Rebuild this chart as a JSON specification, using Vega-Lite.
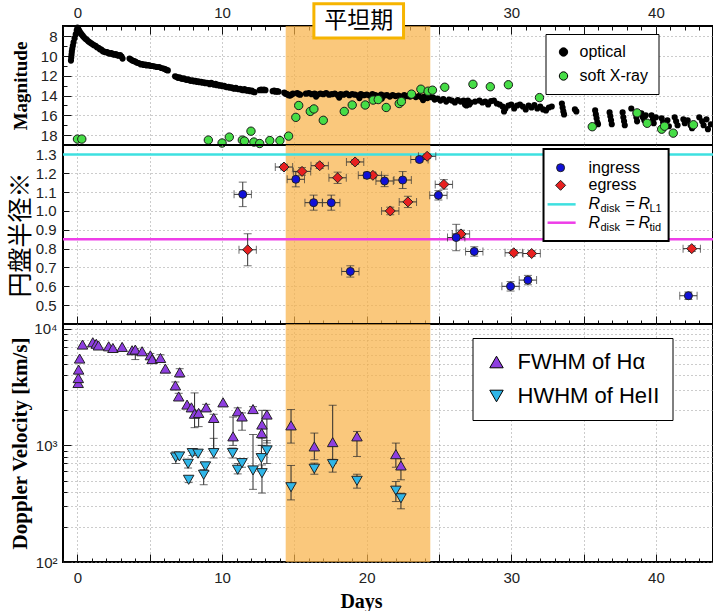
{
  "$schema": "https://vega.github.io/schema/vega-lite/v6.json",
  "background": "white",
  "padding": {"left": 7, "top": 0, "right": 0, "bottom": 0},
  "spacing": 0,
  "bounds": "flush",
  "resolve": {"scale": {"color": "independent", "shape": "independent", "stroke": "independent"}, "legend": {"color": "independent", "shape": "independent"}},
  "config": {
    "view": {"stroke": "black", "strokeWidth": 2},
    "axis": {"domain": false, "labelFont": "Liberation Sans", "labelFontSize": 15, "labelColor": "#222", "tickColor": "#111", "tickWidth": 1, "gridColor": "#999", "gridDash": [1, 3], "gridWidth": 1, "labelOverlap": false, "labelFlush": false, "titleColor": "black"},
    "legend": {"orient": "none", "strokeColor": "black", "fillColor": "white", "labelFont": "Liberation Sans", "labelColor": "black", "symbolStrokeColor": "black", "symbolStrokeWidth": 1}
  },
  "datasets": {
    "phase": [{"label": "平坦期", "start": 14.4, "end": 24.4}],
    "limits": [{"name": "R_L1", "r": 1.3}, {"name": "R_tid", "r": 0.85}],
    "optical": [
      {"day": -0.45, "mag": 10.45}, {"day": -0.43, "mag": 10.15}, {"day": -0.41, "mag": 9.85}, {"day": -0.39, "mag": 9.55}, {"day": -0.36, "mag": 9.25}, {"day": -0.32, "mag": 8.95}, {"day": -0.27, "mag": 8.6}, {"day": -0.2, "mag": 8.2}, {"day": -0.12, "mag": 7.8}, {"day": -0.05, "mag": 7.4},
      {"day": 0.0, "mag": 7.1}, {"day": 0.06, "mag": 7.25}, {"day": 0.13, "mag": 7.45}, {"day": 0.21, "mag": 7.65}, {"day": 0.29, "mag": 7.8}, {"day": 0.37, "mag": 7.95}, {"day": 0.45, "mag": 8.1}, {"day": 0.55, "mag": 8.25}, {"day": 0.65, "mag": 8.35}, {"day": 0.75, "mag": 8.5},
      {"day": 0.85, "mag": 8.6}, {"day": 0.95, "mag": 8.7}, {"day": 1.05, "mag": 8.8}, {"day": 1.15, "mag": 8.9}, {"day": 1.25, "mag": 8.95}, {"day": 1.35, "mag": 9.1}, {"day": 1.45, "mag": 9.15}, {"day": 1.55, "mag": 9.3}, {"day": 1.65, "mag": 9.35}, {"day": 1.75, "mag": 9.5},
      {"day": 1.85, "mag": 9.55}, {"day": 1.95, "mag": 9.6}, {"day": 2.05, "mag": 9.6}, {"day": 2.15, "mag": 9.7}, {"day": 2.25, "mag": 9.75}, {"day": 2.35, "mag": 9.7}, {"day": 2.45, "mag": 9.8}, {"day": 2.55, "mag": 9.85}, {"day": 2.65, "mag": 9.8}, {"day": 2.75, "mag": 9.9},
      {"day": 2.85, "mag": 9.95}, {"day": 2.95, "mag": 9.9}, {"day": 3.05, "mag": 10.05}, {"day": 3.12, "mag": 10.25}, {"day": 3.6, "mag": 10.25}, {"day": 3.7, "mag": 10.35}, {"day": 3.8, "mag": 10.45}, {"day": 3.9, "mag": 10.5}, {"day": 4.0, "mag": 10.55}, {"day": 4.1, "mag": 10.65},
      {"day": 4.2, "mag": 10.7}, {"day": 4.3, "mag": 10.75}, {"day": 4.4, "mag": 10.85}, {"day": 4.5, "mag": 10.8}, {"day": 4.6, "mag": 10.9}, {"day": 4.7, "mag": 10.85}, {"day": 4.8, "mag": 10.95}, {"day": 4.9, "mag": 10.9}, {"day": 5.0, "mag": 10.95}, {"day": 5.1, "mag": 11.0},
      {"day": 5.2, "mag": 11.0}, {"day": 5.35, "mag": 11.05}, {"day": 5.5, "mag": 11.1}, {"day": 5.65, "mag": 11.1}, {"day": 5.8, "mag": 11.2}, {"day": 5.95, "mag": 11.25}, {"day": 6.05, "mag": 11.3}, {"day": 6.15, "mag": 11.4}, {"day": 6.25, "mag": 11.45},
      {"day": 6.75, "mag": 12.05}, {"day": 6.85, "mag": 12.1}, {"day": 6.95, "mag": 12.2}, {"day": 7.05, "mag": 12.15}, {"day": 7.15, "mag": 12.25}, {"day": 7.25, "mag": 12.3}, {"day": 7.35, "mag": 12.25}, {"day": 7.45, "mag": 12.35}, {"day": 7.55, "mag": 12.4}, {"day": 7.65, "mag": 12.35},
      {"day": 7.75, "mag": 12.45}, {"day": 7.85, "mag": 12.5}, {"day": 7.95, "mag": 12.45}, {"day": 8.05, "mag": 12.55}, {"day": 8.15, "mag": 12.5}, {"day": 8.25, "mag": 12.6}, {"day": 8.35, "mag": 12.55}, {"day": 8.45, "mag": 12.65}, {"day": 8.55, "mag": 12.6}, {"day": 8.65, "mag": 12.7},
      {"day": 8.75, "mag": 12.65}, {"day": 8.85, "mag": 12.75}, {"day": 8.95, "mag": 12.7}, {"day": 9.05, "mag": 12.75}, {"day": 9.15, "mag": 12.85}, {"day": 9.25, "mag": 12.7}, {"day": 9.35, "mag": 12.8}, {"day": 9.45, "mag": 12.9}, {"day": 9.55, "mag": 12.8}, {"day": 9.65, "mag": 12.95},
      {"day": 9.75, "mag": 12.9}, {"day": 9.85, "mag": 13.0}, {"day": 9.95, "mag": 12.95}, {"day": 10.05, "mag": 13.05}, {"day": 10.15, "mag": 13.0}, {"day": 10.25, "mag": 13.1}, {"day": 10.35, "mag": 13.15}, {"day": 10.45, "mag": 13.1}, {"day": 10.55, "mag": 13.2}, {"day": 10.65, "mag": 13.15},
      {"day": 10.75, "mag": 13.25}, {"day": 10.85, "mag": 13.3}, {"day": 10.95, "mag": 13.2}, {"day": 11.05, "mag": 13.3}, {"day": 11.15, "mag": 13.35}, {"day": 11.25, "mag": 13.3}, {"day": 11.35, "mag": 13.4}, {"day": 11.45, "mag": 13.45}, {"day": 11.55, "mag": 13.35}, {"day": 11.65, "mag": 13.45},
      {"day": 11.75, "mag": 13.5}, {"day": 11.85, "mag": 13.45}, {"day": 11.95, "mag": 13.55}, {"day": 12.05, "mag": 13.5}, {"day": 12.15, "mag": 13.6}, {"day": 12.25, "mag": 13.65},
      {"day": 12.6, "mag": 13.45}, {"day": 12.7, "mag": 13.4}, {"day": 12.8, "mag": 13.45}, {"day": 12.9, "mag": 13.4}, {"day": 13.0, "mag": 13.45},
      {"day": 13.5, "mag": 13.55}, {"day": 13.6, "mag": 13.5}, {"day": 13.7, "mag": 13.6}, {"day": 13.8, "mag": 13.55}, {"day": 13.9, "mag": 13.6},
      {"day": 14.3, "mag": 13.7}, {"day": 14.4, "mag": 13.8}, {"day": 14.5, "mag": 13.85}, {"day": 14.6, "mag": 13.95}, {"day": 14.7, "mag": 14.0}, {"day": 14.8, "mag": 13.9}, {"day": 14.9, "mag": 13.8},
      {"day": 15.2, "mag": 13.75}, {"day": 15.3, "mag": 13.85}, {"day": 15.4, "mag": 13.9},
      {"day": 15.8, "mag": 13.8}, {"day": 16.0, "mag": 13.75}, {"day": 16.2, "mag": 13.85}, {"day": 16.4, "mag": 13.8}, {"day": 16.5, "mag": 14.1}, {"day": 16.6, "mag": 13.9}, {"day": 16.8, "mag": 13.8}, {"day": 17.0, "mag": 13.85}, {"day": 17.2, "mag": 13.75}, {"day": 17.4, "mag": 13.9},
      {"day": 17.6, "mag": 13.85}, {"day": 17.8, "mag": 13.8}, {"day": 18.0, "mag": 13.95}, {"day": 18.1, "mag": 14.2}, {"day": 18.2, "mag": 13.85}, {"day": 18.4, "mag": 13.9}, {"day": 18.6, "mag": 13.8}, {"day": 18.8, "mag": 13.95}, {"day": 19.0, "mag": 13.85}, {"day": 19.2, "mag": 13.9},
      {"day": 19.4, "mag": 14.0}, {"day": 19.5, "mag": 14.25}, {"day": 19.6, "mag": 13.85}, {"day": 19.8, "mag": 13.95}, {"day": 20.0, "mag": 13.9}, {"day": 20.2, "mag": 14.0}, {"day": 20.4, "mag": 13.85}, {"day": 20.6, "mag": 13.95}, {"day": 20.8, "mag": 14.05}, {"day": 21.0, "mag": 13.9},
      {"day": 21.05, "mag": 14.3}, {"day": 21.2, "mag": 14.0}, {"day": 21.4, "mag": 13.95}, {"day": 21.6, "mag": 14.1}, {"day": 21.8, "mag": 13.95}, {"day": 22.0, "mag": 14.05}, {"day": 22.2, "mag": 14.0}, {"day": 22.4, "mag": 14.1}, {"day": 22.5, "mag": 14.35}, {"day": 22.6, "mag": 13.95},
      {"day": 22.8, "mag": 14.05}, {"day": 23.0, "mag": 14.1}, {"day": 23.2, "mag": 14.0}, {"day": 23.4, "mag": 14.15}, {"day": 23.6, "mag": 14.05}, {"day": 23.8, "mag": 14.2}, {"day": 23.9, "mag": 14.45}, {"day": 24.0, "mag": 14.1}, {"day": 24.2, "mag": 14.25}, {"day": 24.4, "mag": 14.15},
      {"day": 24.6, "mag": 14.2}, {"day": 24.7, "mag": 14.4}, {"day": 24.9, "mag": 14.3}, {"day": 25.1, "mag": 14.5}, {"day": 25.3, "mag": 14.35}, {"day": 25.5, "mag": 14.6}, {"day": 25.7, "mag": 14.4}, {"day": 25.9, "mag": 14.5}, {"day": 26.1, "mag": 14.7}, {"day": 26.3, "mag": 14.45},
      {"day": 26.5, "mag": 14.6}, {"day": 26.7, "mag": 14.5}, {"day": 26.8, "mag": 14.9}, {"day": 26.9, "mag": 15.0}, {"day": 27.0, "mag": 14.5}, {"day": 27.1, "mag": 14.9}, {"day": 27.2, "mag": 14.7}, {"day": 27.5, "mag": 14.6}, {"day": 27.8, "mag": 14.5}, {"day": 28.0, "mag": 14.7},
      {"day": 28.2, "mag": 14.6}, {"day": 28.4, "mag": 14.9}, {"day": 28.6, "mag": 14.55}, {"day": 28.8, "mag": 14.5}, {"day": 29.0, "mag": 14.8}, {"day": 29.2, "mag": 14.9}, {"day": 29.4, "mag": 15.1}, {"day": 29.5, "mag": 15.6}, {"day": 29.6, "mag": 15.3}, {"day": 29.8, "mag": 15.0},
      {"day": 30.0, "mag": 14.9}, {"day": 30.2, "mag": 15.3}, {"day": 30.4, "mag": 15.0}, {"day": 30.6, "mag": 14.9}, {"day": 30.8, "mag": 15.1}, {"day": 31.0, "mag": 15.4}, {"day": 31.2, "mag": 15.0}, {"day": 31.4, "mag": 15.2}, {"day": 31.6, "mag": 14.95}, {"day": 31.8, "mag": 15.3},
      {"day": 32.0, "mag": 15.1}, {"day": 32.2, "mag": 15.4}, {"day": 32.4, "mag": 15.5}, {"day": 32.6, "mag": 15.2}, {"day": 32.8, "mag": 15.1}, {"day": 33.5, "mag": 14.8}, {"day": 33.55, "mag": 15.2}, {"day": 33.6, "mag": 15.6}, {"day": 33.65, "mag": 15.9}, {"day": 34.4, "mag": 15.4},
      {"day": 34.5, "mag": 15.6}, {"day": 35.8, "mag": 15.5}, {"day": 35.85, "mag": 15.9}, {"day": 35.9, "mag": 16.3}, {"day": 35.95, "mag": 16.7}, {"day": 36.0, "mag": 16.9}, {"day": 36.8, "mag": 15.7}, {"day": 36.85, "mag": 16.1}, {"day": 36.9, "mag": 16.5}, {"day": 36.95, "mag": 16.9},
      {"day": 37.7, "mag": 15.7}, {"day": 37.75, "mag": 16.2}, {"day": 37.8, "mag": 16.6}, {"day": 37.85, "mag": 17.0}, {"day": 38.3, "mag": 15.3}, {"day": 38.6, "mag": 15.8}, {"day": 38.65, "mag": 16.2}, {"day": 38.7, "mag": 16.6}, {"day": 39.0, "mag": 15.8}, {"day": 39.1, "mag": 16.2},
      {"day": 39.2, "mag": 16.5}, {"day": 39.3, "mag": 16.0}, {"day": 39.7, "mag": 16.0}, {"day": 39.8, "mag": 16.4}, {"day": 39.85, "mag": 16.8}, {"day": 40.0, "mag": 16.2}, {"day": 40.4, "mag": 16.3}, {"day": 40.5, "mag": 16.7}, {"day": 40.6, "mag": 17.0}, {"day": 40.8, "mag": 16.5},
      {"day": 40.9, "mag": 17.1}, {"day": 41.3, "mag": 16.2}, {"day": 41.4, "mag": 16.6}, {"day": 41.5, "mag": 17.0}, {"day": 41.9, "mag": 16.4}, {"day": 42.0, "mag": 16.8}, {"day": 42.2, "mag": 16.5}, {"day": 42.4, "mag": 17.0}, {"day": 42.5, "mag": 17.3}, {"day": 43.0, "mag": 16.2},
      {"day": 43.2, "mag": 16.6}, {"day": 43.3, "mag": 17.0}, {"day": 43.5, "mag": 16.4}, {"day": 43.6, "mag": 17.4}, {"day": 43.8, "mag": 16.9}
    ],
    "xray": [
      {"day": 0.0, "mag": 18.4}, {"day": 0.3, "mag": 18.4}, {"day": 9.05, "mag": 18.5}, {"day": 10.0, "mag": 18.8}, {"day": 10.5, "mag": 18.2}, {"day": 11.4, "mag": 18.5}, {"day": 11.55, "mag": 18.6}, {"day": 12.0, "mag": 17.6}, {"day": 12.2, "mag": 18.7}, {"day": 12.6, "mag": 18.85},
      {"day": 13.3, "mag": 18.55}, {"day": 14.0, "mag": 18.55}, {"day": 14.6, "mag": 18.1}, {"day": 15.1, "mag": 16.2}, {"day": 15.3, "mag": 15.0}, {"day": 16.1, "mag": 15.6}, {"day": 16.35, "mag": 15.35}, {"day": 17.0, "mag": 16.5}, {"day": 18.45, "mag": 15.6}, {"day": 19.0, "mag": 14.95},
      {"day": 19.9, "mag": 14.95}, {"day": 20.45, "mag": 14.45}, {"day": 20.8, "mag": 14.4}, {"day": 21.35, "mag": 15.2}, {"day": 22.25, "mag": 14.8}, {"day": 22.4, "mag": 14.6}, {"day": 23.1, "mag": 13.85}, {"day": 23.75, "mag": 13.35}, {"day": 24.25, "mag": 13.55}, {"day": 24.55, "mag": 13.45},
      {"day": 25.4, "mag": 13.15}, {"day": 27.35, "mag": 12.85}, {"day": 28.55, "mag": 13.1}, {"day": 29.8, "mag": 12.9}, {"day": 31.95, "mag": 14.2}, {"day": 35.6, "mag": 17.15}, {"day": 38.7, "mag": 15.75}, {"day": 39.4, "mag": 16.8}, {"day": 40.4, "mag": 17.4}, {"day": 40.6, "mag": 17.1},
      {"day": 41.2, "mag": 17.8}, {"day": 42.6, "mag": 16.95}
    ],
    "disk": [
      {"type": "ingress", "day": 11.43, "r": 1.088, "err": 0.065, "derr": 0.6}, {"type": "ingress", "day": 15.1, "r": 1.168, "err": 0.04, "derr": 0.6}, {"type": "ingress", "day": 16.33, "r": 1.044, "err": 0.04, "derr": 0.6}, {"type": "ingress", "day": 17.55, "r": 1.044, "err": 0.04, "derr": 0.6}, {"type": "ingress", "day": 18.87, "r": 0.679, "err": 0.03, "derr": 0.6},
      {"type": "ingress", "day": 20.02, "r": 1.189, "err": 0.015, "derr": 0.6}, {"type": "ingress", "day": 21.24, "r": 1.159, "err": 0.03, "derr": 0.6}, {"type": "ingress", "day": 22.49, "r": 1.164, "err": 0.045, "derr": 0.6}, {"type": "ingress", "day": 23.65, "r": 1.273, "err": 0.012, "derr": 0.6}, {"type": "ingress", "day": 24.96, "r": 1.083, "err": 0.025, "derr": 0.6},
      {"type": "ingress", "day": 26.19, "r": 0.859, "err": 0.07, "derr": 0.6}, {"type": "ingress", "day": 27.44, "r": 0.785, "err": 0.025, "derr": 0.6}, {"type": "ingress", "day": 29.95, "r": 0.6, "err": 0.025, "derr": 0.6}, {"type": "ingress", "day": 31.15, "r": 0.633, "err": 0.025, "derr": 0.6}, {"type": "ingress", "day": 42.25, "r": 0.55, "err": 0.02, "derr": 0.6},
      {"type": "egress", "day": 11.77, "r": 0.794, "err": 0.085, "derr": 0.6}, {"type": "egress", "day": 14.28, "r": 1.233, "err": 0.015, "derr": 0.6}, {"type": "egress", "day": 15.53, "r": 1.21, "err": 0.02, "derr": 0.6}, {"type": "egress", "day": 16.75, "r": 1.24, "err": 0.015, "derr": 0.6}, {"type": "egress", "day": 17.99, "r": 1.176, "err": 0.03, "derr": 0.6},
      {"type": "egress", "day": 19.2, "r": 1.26, "err": 0.012, "derr": 0.6}, {"type": "egress", "day": 20.43, "r": 1.189, "err": 0.012, "derr": 0.6}, {"type": "egress", "day": 21.63, "r": 1.0, "err": 0.02, "derr": 0.6}, {"type": "egress", "day": 22.85, "r": 1.048, "err": 0.03, "derr": 0.6}, {"type": "egress", "day": 24.18, "r": 1.29, "err": 0.012, "derr": 0.6},
      {"type": "egress", "day": 25.34, "r": 1.141, "err": 0.025, "derr": 0.6}, {"type": "egress", "day": 26.52, "r": 0.878, "err": 0.02, "derr": 0.6}, {"type": "egress", "day": 30.17, "r": 0.778, "err": 0.015, "derr": 0.6}, {"type": "egress", "day": 31.41, "r": 0.774, "err": 0.015, "derr": 0.6}, {"type": "egress", "day": 42.48, "r": 0.8, "err": 0.015, "derr": 0.6}
    ],
    "halpha": [
      {"day": 0.05, "v": 3430}, {"day": 0.06, "v": 3780}, {"day": 0.08, "v": 4470}, {"day": 0.15, "v": 5560}, {"day": 0.35, "v": 7330}, {"day": 1.06, "v": 7670}, {"day": 1.3, "v": 7450}, {"day": 1.45, "v": 7200}, {"day": 2.16, "v": 7080}, {"day": 2.45, "v": 6850},
      {"day": 3.09, "v": 7000}, {"day": 3.78, "v": 6550}, {"day": 4.0, "v": 6640, "lo": 5450, "hi": 6750}, {"day": 4.47, "v": 6420}, {"day": 5.04, "v": 5930, "lo": 5700, "hi": 6150}, {"day": 5.16, "v": 5500}, {"day": 5.74, "v": 5620, "lo": 5150, "hi": 6000}, {"day": 6.08, "v": 4560},
      {"day": 6.77, "v": 3270, "lo": 3000, "hi": 3500}, {"day": 7.07, "v": 4240, "lo": 3850, "hi": 4550}, {"day": 7.0, "v": 2630, "lo": 2450, "hi": 2800}, {"day": 7.58, "v": 2240}, {"day": 7.88, "v": 2120}, {"day": 8.1, "v": 1870, "lo": 1420, "hi": 2820}, {"day": 8.38, "v": 1900, "lo": 1450, "hi": 2000},
      {"day": 8.9, "v": 2120, "lo": 2000, "hi": 2250}, {"day": 9.42, "v": 1720, "lo": 900, "hi": 1850}, {"day": 10.07, "v": 2340}, {"day": 10.76, "v": 1195, "lo": 1000, "hi": 1750}, {"day": 11.08, "v": 1960, "lo": 1800, "hi": 2100}, {"day": 11.38, "v": 1770, "lo": 1350, "hi": 1900},
      {"day": 12.14, "v": 2050, "lo": 1950, "hi": 2150}, {"day": 12.76, "v": 1510, "lo": 1000, "hi": 2000}, {"day": 12.74, "v": 1275, "lo": 1150, "hi": 1400}, {"day": 13.1, "v": 1840, "lo": 1050, "hi": 2000}, {"day": 14.77, "v": 1485, "lo": 1047, "hi": 2030},
      {"day": 16.38, "v": 980, "lo": 754, "hi": 1276}, {"day": 17.65, "v": 1067, "lo": 700, "hi": 2210}, {"day": 19.33, "v": 1195, "lo": 804, "hi": 1318}, {"day": 22.02, "v": 841, "lo": 650, "hi": 1047}, {"day": 22.37, "v": 673, "lo": 507, "hi": 770}
    ],
    "heii": [
      {"day": 6.8, "v": 789, "lo": 700, "hi": 880}, {"day": 7.05, "v": 804}, {"day": 7.65, "v": 696, "lo": 640, "hi": 740}, {"day": 7.69, "v": 507, "lo": 480, "hi": 540}, {"day": 7.95, "v": 859, "lo": 820, "hi": 900}, {"day": 8.34, "v": 849},
      {"day": 8.85, "v": 661, "lo": 600, "hi": 700}, {"day": 8.73, "v": 560, "lo": 460, "hi": 620}, {"day": 9.42, "v": 859, "lo": 780, "hi": 1150}, {"day": 10.73, "v": 859, "lo": 780, "hi": 950}, {"day": 11.08, "v": 618, "lo": 570, "hi": 700},
      {"day": 11.38, "v": 705, "lo": 650, "hi": 760}, {"day": 12.14, "v": 610, "lo": 420, "hi": 1240}, {"day": 12.72, "v": 778, "lo": 600, "hi": 1000}, {"day": 12.76, "v": 578, "lo": 390, "hi": 680}, {"day": 13.1, "v": 906, "lo": 700, "hi": 1100},
      {"day": 14.77, "v": 438, "lo": 341, "hi": 673}, {"day": 16.38, "v": 631, "lo": 566, "hi": 705}, {"day": 17.65, "v": 691, "lo": 590, "hi": 760}, {"day": 19.33, "v": 497, "lo": 430, "hi": 566}, {"day": 22.02, "v": 409, "lo": 330, "hi": 490}, {"day": 22.37, "v": 352, "lo": 286, "hi": 389}
    ]
  },
  "vconcat": [
    {
      "width": 650,
      "height": 119,
      "layer": [
        {
          "data": {"name": "phase"},
          "mark": {"type": "rect", "color": "#f8b045", "opacity": 0.7},
          "encoding": {
            "x": {"field": "start", "type": "quantitative", "title": null, "scale": {"domain": [-1, 43.95], "nice": false, "zero": false},
              "axis": {"orient": "top", "title": null, "tickCount": 100, "labelOverlap": false, "values": [-1,0,1,2,3,4,5,6,7,8,9,10,11,12,13,14,15,16,17,18,19,20,21,22,23,24,25,26,27,28,29,30,31,32,33,34,35,36,37,38,39,40,41,42,43],
                "labelExpr": "datum.value % 10 === 0 && datum.value !== 20 ? '' + datum.value : ''", "labelPadding": 14,
                "tickSize": {"condition": {"test": "datum.value % 5 === 0", "value": -8}, "value": -4},
                "grid": true, "gridOpacity": {"condition": {"test": "datum.value % 5 === 0", "value": 1}, "value": 0}}},
            "x2": {"field": "end"}
          }
        },
        {
          "data": {"name": "optical"},
          "mark": {"type": "point", "filled": true, "size": 38, "opacity": 1, "strokeWidth": 0},
          "encoding": {
            "x": {"field": "day", "type": "quantitative", "title": null},
            "y": {"field": "mag", "type": "quantitative", "title": "Magnitude", "scale": {"domain": [6.95, 19], "reverse": true, "nice": false, "zero": false},
              "axis": {"title": "Magnitude", "titleFont": "Liberation Serif", "titleFontSize": 19, "titleFontWeight": "bold", "titlePadding": 10, "tickCount": 100, "labelOverlap": false,
                "values": [7,8,9,10,11,12,13,14,15,16,17,18,19],
                "labelExpr": "datum.value % 2 === 0 && datum.value >= 8 && datum.value <= 18 ? '' + datum.value : ''",
                "tickSize": {"condition": {"test": "datum.value % 2 === 0", "value": -8}, "value": -4}, "labelPadding": 14,
                "grid": true, "gridOpacity": {"condition": {"test": "datum.value % 2 === 0", "value": 1}, "value": 0}}},
            "color": {"datum": "optical", "type": "nominal", "scale": {"domain": ["optical", "soft X-ray"], "range": ["black", "#46dd46"]},
              "legend": {"title": null, "legendX": 482.5, "legendY": 8, "labelFontSize": 16, "symbolSize": 70, "padding": 10, "rowPadding": 8, "labelOffset": 8}}
          }
        },
        {
          "data": {"name": "xray"},
          "mark": {"type": "point", "filled": true, "size": 70, "opacity": 1, "stroke": "#1a1a1a", "strokeWidth": 1},
          "encoding": {
            "x": {"field": "day", "type": "quantitative", "title": null},
            "y": {"field": "mag", "type": "quantitative", "title": "Magnitude"},
            "color": {"datum": "soft X-ray", "type": "nominal"}
          }
        },
        {
          "data": {"name": "phase"},
          "mark": {"type": "rect", "fill": "white", "stroke": "#f6b400", "strokeWidth": 3},
          "encoding": {"x": {"datum": 16.35}, "x2": {"datum": 22.55}, "y": {"datum": 4.7}, "y2": {"datum": 8.17}}
        },
        {
          "data": {"name": "phase"},
          "mark": {"type": "text", "font": "Noto Sans CJK JP", "fontSize": 23, "color": "black", "align": "center", "baseline": "middle"},
          "encoding": {"x": {"datum": 19.45}, "y": {"datum": 6.4}, "text": {"field": "label"}}
        }
      ]
    },
    {
      "width": 650,
      "height": 179,
      "layer": [
        {
          "data": {"name": "phase"},
          "mark": {"type": "rect", "color": "#f8b045", "opacity": 0.7},
          "encoding": {
            "x": {"field": "start", "type": "quantitative", "title": null, "scale": {"domain": [-1, 43.95], "nice": false, "zero": false},
              "axis": {"orient": "bottom", "title": null, "labels": false, "tickCount": 100, "values": [-1,0,1,2,3,4,5,6,7,8,9,10,11,12,13,14,15,16,17,18,19,20,21,22,23,24,25,26,27,28,29,30,31,32,33,34,35,36,37,38,39,40,41,42,43],
                "tickSize": {"condition": {"test": "datum.value % 5 === 0", "value": -8}, "value": -4},
                "grid": true, "gridOpacity": {"condition": {"test": "datum.value % 5 === 0", "value": 1}, "value": 0}}},
            "x2": {"field": "end"}
          }
        },
        {
          "data": {"name": "limits"},
          "mark": {"type": "rule", "strokeWidth": 2.5},
          "encoding": {
            "y": {"field": "r", "type": "quantitative", "title": "円盤半径※", "scale": {"domain": [0.4, 1.35], "nice": false, "zero": false},
              "axis": {"title": "円盤半径※", "titleFont": "Noto Sans CJK JP", "titleFontSize": 25, "titleFontWeight": "normal", "titlePadding": 2, "tickCount": 100, "labelOverlap": false,
                "values": [0.5,0.6,0.7,0.8,0.9,1.0,1.1,1.2,1.3], "format": ".1f", "tickSize": -6, "labelPadding": 13, "grid": true}},
            "stroke": {"field": "name", "type": "nominal", "scale": {"domain": ["R_L1", "R_tid"], "range": ["#3ee0e0", "#ee3ee8"]}, "legend": null}
          }
        },
        {
          "data": {"name": "disk"},
          "mark": {"type": "errorbar", "ticks": {"size": 8}, "color": "#333"},
          "encoding": {
            "x": {"field": "day", "type": "quantitative", "title": null},
            "xError": {"field": "derr"},
            "y": {"field": "r", "type": "quantitative", "title": "円盤半径※"}
          }
        },
        {
          "data": {"name": "disk"},
          "mark": {"type": "errorbar", "ticks": {"size": 8}, "color": "#333"},
          "encoding": {
            "x": {"field": "day", "type": "quantitative", "title": null},
            "y": {"field": "r", "type": "quantitative", "title": "円盤半径※"},
            "yError": {"field": "err"}
          }
        },
        {
          "data": {"name": "disk"},
          "transform": [{"filter": "datum.type === 'egress'"}],
          "mark": {"type": "point", "shape": "diamond", "filled": true, "size": 100, "opacity": 1, "fill": "#e82020", "stroke": "#222", "strokeWidth": 1},
          "encoding": {"x": {"field": "day", "type": "quantitative", "title": null}, "y": {"field": "r", "type": "quantitative", "title": "円盤半径※"}}
        },
        {
          "data": {"name": "disk"},
          "transform": [{"filter": "datum.type === 'ingress'"}],
          "mark": {"type": "point", "shape": "circle", "filled": true, "size": 64, "opacity": 1, "fill": "#1010d8", "stroke": "#222", "strokeWidth": 1},
          "encoding": {"x": {"field": "day", "type": "quantitative", "title": null}, "y": {"field": "r", "type": "quantitative", "title": "円盤半径※"}}
        },
        {
          "data": {"name": "phase"},
          "mark": {"type": "rect", "fill": "white", "stroke": "black", "strokeWidth": 2},
          "encoding": {"x": {"datum": 32.23}, "x2": {"datum": 40.88}, "y": {"datum": 1.329}, "y2": {"datum": 0.84}}
        },
        {
          "data": {"name": "phase"},
          "mark": {"type": "point", "shape": "circle", "filled": true, "size": 64, "opacity": 1, "fill": "#1010d8", "stroke": "#222", "strokeWidth": 1},
          "encoding": {"x": {"datum": 33.41}, "y": {"datum": 1.2295}}
        },
        {
          "data": {"name": "phase"},
          "mark": {"type": "point", "shape": "diamond", "filled": true, "size": 100, "opacity": 1, "fill": "#e82020", "stroke": "#222", "strokeWidth": 1},
          "encoding": {"x": {"datum": 33.41}, "y": {"datum": 1.136}}
        },
        {
          "data": {"name": "phase"},
          "mark": {"type": "rule", "color": "#3ee0e0", "strokeWidth": 2.5},
          "encoding": {"x": {"datum": 32.51}, "x2": {"datum": 34.45}, "y": {"datum": 1.035}}
        },
        {
          "data": {"name": "phase"},
          "mark": {"type": "rule", "color": "#ee3ee8", "strokeWidth": 2.5},
          "encoding": {"x": {"datum": 32.51}, "x2": {"datum": 34.45}, "y": {"datum": 0.9376}}
        },
        {
          "data": {"name": "phase"},
          "mark": {"type": "text", "text": "ingress", "font": "Liberation Sans", "fontSize": 16, "align": "left", "baseline": "middle", "color": "black"},
          "encoding": {"x": {"datum": 35.34}, "y": {"datum": 1.2295}}
        },
        {
          "data": {"name": "phase"},
          "mark": {"type": "text", "text": "egress", "font": "Liberation Sans", "fontSize": 16, "align": "left", "baseline": "middle", "color": "black"},
          "encoding": {"x": {"datum": 35.34}, "y": {"datum": 1.136}}
        },
        {
          "data": {"name": "phase"},
          "mark": {"type": "text", "text": "R", "font": "Liberation Sans", "fontStyle": "italic", "fontSize": 16, "align": "left", "baseline": "middle", "color": "black"},
          "encoding": {"x": {"datum": 35.34}, "y": {"datum": 1.035}}
        },
        {
          "data": {"name": "phase"},
          "mark": {"type": "text", "text": "disk", "font": "Liberation Sans", "fontSize": 11, "align": "left", "baseline": "middle", "dx": 12, "dy": 5, "color": "black"},
          "encoding": {"x": {"datum": 35.34}, "y": {"datum": 1.035}}
        },
        {
          "data": {"name": "phase"},
          "mark": {"type": "text", "text": "=", "font": "Liberation Sans", "fontSize": 16, "align": "left", "baseline": "middle", "dx": 37, "color": "black"},
          "encoding": {"x": {"datum": 35.34}, "y": {"datum": 1.035}}
        },
        {
          "data": {"name": "phase"},
          "mark": {"type": "text", "text": "R", "font": "Liberation Sans", "fontStyle": "italic", "fontSize": 16, "align": "left", "baseline": "middle", "dx": 50, "color": "black"},
          "encoding": {"x": {"datum": 35.34}, "y": {"datum": 1.035}}
        },
        {
          "data": {"name": "phase"},
          "mark": {"type": "text", "text": "L1", "font": "Liberation Sans", "fontSize": 11, "align": "left", "baseline": "middle", "dx": 61, "dy": 5, "color": "black"},
          "encoding": {"x": {"datum": 35.34}, "y": {"datum": 1.035}}
        },
        {
          "data": {"name": "phase"},
          "mark": {"type": "text", "text": "R", "font": "Liberation Sans", "fontStyle": "italic", "fontSize": 16, "align": "left", "baseline": "middle", "color": "black"},
          "encoding": {"x": {"datum": 35.34}, "y": {"datum": 0.9376}}
        },
        {
          "data": {"name": "phase"},
          "mark": {"type": "text", "text": "disk", "font": "Liberation Sans", "fontSize": 11, "align": "left", "baseline": "middle", "dx": 12, "dy": 5, "color": "black"},
          "encoding": {"x": {"datum": 35.34}, "y": {"datum": 0.9376}}
        },
        {
          "data": {"name": "phase"},
          "mark": {"type": "text", "text": "=", "font": "Liberation Sans", "fontSize": 16, "align": "left", "baseline": "middle", "dx": 37, "color": "black"},
          "encoding": {"x": {"datum": 35.34}, "y": {"datum": 0.9376}}
        },
        {
          "data": {"name": "phase"},
          "mark": {"type": "text", "text": "R", "font": "Liberation Sans", "fontStyle": "italic", "fontSize": 16, "align": "left", "baseline": "middle", "dx": 50, "color": "black"},
          "encoding": {"x": {"datum": 35.34}, "y": {"datum": 0.9376}}
        },
        {
          "data": {"name": "phase"},
          "mark": {"type": "text", "text": "tid", "font": "Liberation Sans", "fontSize": 11, "align": "left", "baseline": "middle", "dx": 61, "dy": 5, "color": "black"},
          "encoding": {"x": {"datum": 35.34}, "y": {"datum": 0.9376}}
        }
      ]
    },
    {
      "width": 650,
      "height": 238,
      "layer": [
        {
          "data": {"name": "phase"},
          "mark": {"type": "rect", "color": "#f8b045", "opacity": 0.7},
          "encoding": {
            "x": {"field": "start", "type": "quantitative", "title": "Days", "scale": {"domain": [-1, 43.95], "nice": false, "zero": false},
              "axis": {"orient": "bottom", "title": "Days", "titleFont": "Liberation Serif", "titleFontSize": 20, "titleFontWeight": "bold", "titlePadding": 2, "titleX": 298, "tickCount": 100, "labelOverlap": false,
                "values": [-1,0,1,2,3,4,5,6,7,8,9,10,11,12,13,14,15,16,17,18,19,20,21,22,23,24,25,26,27,28,29,30,31,32,33,34,35,36,37,38,39,40,41,42,43],
                "labelExpr": "datum.value % 10 === 0 ? '' + datum.value : ''", "labelPadding": 16,
                "tickSize": {"condition": {"test": "datum.value % 5 === 0", "value": -8}, "value": -4},
                "grid": true, "gridOpacity": {"condition": {"test": "datum.value % 5 === 0", "value": 1}, "value": 0}}},
            "x2": {"field": "end"}
          }
        },
        {
          "data": {"name": "halpha"},
          "transform": [{"filter": "isValid(datum.lo)"}],
          "mark": {"type": "errorbar", "ticks": {"size": 8}, "color": "#2a2a2a"},
          "encoding": {
            "x": {"field": "day", "type": "quantitative", "title": "Days"},
            "y": {"field": "lo", "type": "quantitative", "title": "Doppler Velocity [km/s]", "scale": {"type": "log", "domain": [100, 11000], "nice": false},
              "axis": {"title": "Doppler Velocity [km/s]", "titleFont": "Liberation Serif", "titleFontSize": 21, "titleFontWeight": "bold", "titlePadding": 3, "tickCount": 100, "labelOverlap": false,
                "values": [100,200,300,400,500,600,700,800,900,1000,2000,3000,4000,5000,6000,7000,8000,9000,10000],
                "labelExpr": "datum.value === 100 ? '10²' : datum.value === 1000 ? '10³' : datum.value === 10000 ? '10⁴' : ''",
                "tickSize": {"condition": {"test": "datum.value === 100 || datum.value === 1000 || datum.value === 10000", "value": -8}, "value": -4},
                "labelPadding": 14, "grid": true}},
            "y2": {"field": "hi"}
          }
        },
        {
          "data": {"name": "heii"},
          "transform": [{"filter": "isValid(datum.lo)"}],
          "mark": {"type": "errorbar", "ticks": {"size": 8}, "color": "#2a2a2a"},
          "encoding": {
            "x": {"field": "day", "type": "quantitative", "title": "Days"},
            "y": {"field": "lo", "type": "quantitative", "title": "Doppler Velocity [km/s]"},
            "y2": {"field": "hi"}
          }
        },
        {
          "data": {"name": "halpha"},
          "mark": {"type": "point", "filled": true, "size": 110, "opacity": 1, "stroke": "#222", "strokeWidth": 1},
          "encoding": {
            "x": {"field": "day", "type": "quantitative", "title": "Days"},
            "y": {"field": "v", "type": "quantitative", "title": "Doppler Velocity [km/s]"},
            "color": {"datum": "FWHM of Hα", "type": "nominal", "scale": {"domain": ["FWHM of Hα", "HWHM of HeII"], "range": ["#8e3ee0", "#2fb6e8"]},
              "legend": {"title": null, "legendX": 409.5, "legendY": 14, "labelFontSize": 22, "symbolSize": 180, "padding": 13, "rowPadding": 12, "labelOffset": 10}},
            "shape": {"datum": "FWHM of Hα", "type": "nominal", "scale": {"domain": ["FWHM of Hα", "HWHM of HeII"], "range": ["triangle-up", "triangle-down"]},
              "legend": {"title": null, "legendX": 409.5, "legendY": 14, "labelFontSize": 22, "symbolSize": 180, "padding": 13, "rowPadding": 12, "labelOffset": 10}}
          }
        },
        {
          "data": {"name": "heii"},
          "mark": {"type": "point", "filled": true, "size": 110, "opacity": 1, "stroke": "#222", "strokeWidth": 1},
          "encoding": {
            "x": {"field": "day", "type": "quantitative", "title": "Days"},
            "y": {"field": "v", "type": "quantitative", "title": "Doppler Velocity [km/s]"},
            "color": {"datum": "HWHM of HeII", "type": "nominal"},
            "shape": {"datum": "HWHM of HeII", "type": "nominal"}
          }
        }
      ]
    }
  ]
}
